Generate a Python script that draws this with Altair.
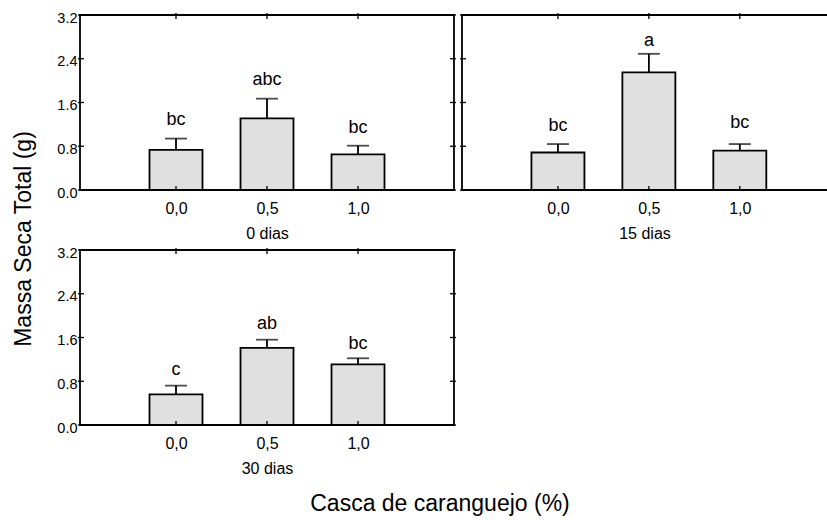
import altair as alt
import pandas as pd

FONT = "Liberation Sans"

# Treatment levels (crab shell, %) and sampling times
casca = [0.0, 0.5, 1.0]
dias = ["0 dias", "15 dias", "30 dias"]
y_ticks = [0.0, 0.8, 1.6, 2.4, 3.2]

# Mean total dry mass (g), upper error limit and Tukey letters per time
massa_0 = [0.735, 1.31, 0.65]
erro_0 = [0.94, 1.67, 0.81]
letras_0 = ["bc", "abc", "bc"]
letra_y_0 = [1.18, 1.92, 1.04]

massa_15 = [0.686, 2.15, 0.72]
erro_15 = [0.84, 2.49, 0.84]
letras_15 = ["bc", "a", "bc"]
letra_y_15 = [1.07, 2.64, 1.14]

massa_30 = [0.56, 1.41, 1.11]
erro_30 = [0.72, 1.56, 1.22]
letras_30 = ["c", "ab", "bc"]
letra_y_30 = [0.92, 1.76, 1.39]

y_title = "Massa Seca Total (g)"
x_title = "Casca de caranguejo (%)"

H = 175
STEP = 187.0  # pixels per unit of x


def panel(massa, erro, letras, letra_y, titulo, width, left_labels, right_side, extra=()):
    df = pd.DataFrame({"casca": casca, "massa": massa, "erro": erro,
                       "letra": letras, "letra_y": letra_y})
    xs = alt.Scale(domain=[-0.5, -0.5 + width / STEP], nice=False, zero=False)
    ys = alt.Scale(domain=[0, 3.2], nice=False)
    xaxis = alt.Axis(values=casca, labelExpr="replace(format(datum.value, '.1f'), '.', ',')",
                     title=titulo, domain=False, ticks=False, grid=False,
                     labelPadding=10, titlePadding=9, labelFontSize=16,
                     titleFontSize=16, titleFontWeight="normal")
    yaxis = alt.Axis(values=y_ticks, format=".1f", title=None, domain=False, ticks=False,
                     grid=False, labels=left_labels, labelFontSize=14.5, labelPadding=3,
                     labelBaseline="middle", labelOffset=3)
    base = alt.Chart(df)
    bars = base.mark_bar(size=53, fill="#e0e0e0", stroke="black", strokeWidth=1.8).encode(
        x=alt.X("casca:Q", scale=xs, axis=xaxis),
        y=alt.Y("massa:Q", scale=ys, axis=yaxis),
    )
    stem = base.mark_rule(color="black", strokeWidth=1.8).encode(
        x=alt.X("casca:Q", scale=xs, axis=xaxis),
        y=alt.Y("massa:Q", scale=ys, axis=yaxis),
        y2="erro:Q",
    )
    cap = base.mark_tick(orient="horizontal", size=22, thickness=1.8, color="black").encode(
        x=alt.X("casca:Q", scale=xs, axis=xaxis),
        y=alt.Y("erro:Q", scale=ys, axis=yaxis),
    )
    letters = base.mark_text(fontSize=18, baseline="alphabetic", color="black").encode(
        x=alt.X("casca:Q", scale=xs, axis=xaxis),
        y=alt.Y("letra_y:Q", scale=ys, axis=yaxis),
        text="letra:N",
    )

    yt = alt.Chart(pd.DataFrame({"v": y_ticks}))
    xt = alt.Chart(pd.DataFrame({"v": casca}))
    one = alt.Chart(pd.DataFrame({"k": [0]}))
    line = dict(color="black", strokeWidth=1.8, strokeCap="square")
    layers = [bars, stem, cap, letters]
    layers.append(yt.mark_rule(color="black", strokeWidth=1.3).encode(
        y=alt.Y("v:Q", scale=ys, axis=yaxis), x=alt.value(-2), x2=alt.value(4)))
    layers.append(xt.mark_rule(color="black", strokeWidth=1.3).encode(
        x=alt.X("v:Q", scale=xs, axis=xaxis), y=alt.value(-2), y2=alt.value(4)))
    layers.append(xt.mark_rule(color="black", strokeWidth=1.3).encode(
        x=alt.X("v:Q", scale=xs, axis=xaxis), y=alt.value(H - 4), y2=alt.value(H)))
    layers.append(one.mark_rule(**line).encode(x=alt.value(0), x2=alt.value(width), y=alt.value(0)))
    layers.append(one.mark_rule(**line).encode(x=alt.value(0), x2=alt.value(width), y=alt.value(H)))
    layers.append(one.mark_rule(**line).encode(x=alt.value(0), y=alt.value(0), y2=alt.value(H)))
    if right_side:
        layers.append(yt.mark_rule(color="black", strokeWidth=1.3).encode(
            y=alt.Y("v:Q", scale=ys, axis=yaxis), x=alt.value(width - 4), x2=alt.value(width + 2)))
        layers.append(one.mark_rule(**line).encode(x=alt.value(width), y=alt.value(0), y2=alt.value(H)))
    layers.extend(extra)
    return alt.layer(*layers).properties(width=width, height=H)


titulo_y = alt.Chart(pd.DataFrame({"t": [y_title]})).mark_text(
    angle=270, fontSize=23, color="black").encode(text="t:N", x=alt.value(-56), y=alt.value(224))
titulo_x = alt.Chart(pd.DataFrame({"t": [x_title]})).mark_text(
    fontSize=23, color="black").encode(text="t:N", x=alt.value(360), y=alt.value(254))

p1 = panel(massa_0, erro_0, letras_0, letra_y_0, dias[0], 374, True, True, [titulo_y])
p2 = panel(massa_15, erro_15, letras_15, letra_y_15, dias[1], 365, False, False)
p3 = panel(massa_30, erro_30, letras_30, letra_y_30, dias[2], 374, True, True, [titulo_x])

chart = alt.concat(
    p1, p2, p3,
    columns=2,
    spacing=alt.RowColnumber(row=60, column=8),
    bounds="flush",
).properties(
    autosize=alt.AutoSizeParams(type="none"),
    padding={"left": 80, "top": 15, "right": 747, "bottom": 505},
).configure(font=FONT).configure_view(stroke=None).configure_axis(
    labelColor="black", titleColor="black", labelFont=FONT, titleFont=FONT
)

chart.save("out.html", embed_options={"renderer": "svg", "actions": False})
